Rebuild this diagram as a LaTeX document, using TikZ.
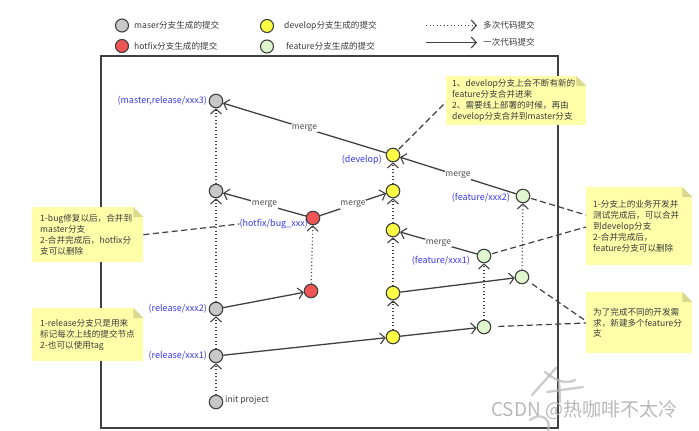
\documentclass[tikz,border=0pt]{standalone}
\usepackage{fontspec}
\setmainfont{Noto Sans CJK SC}
\usetikzlibrary{arrows.meta,calc}
\definecolor{cgray}{HTML}{C8C8C8}
\definecolor{cred}{HTML}{F05555}
\definecolor{cyel}{HTML}{FFFF44}
\definecolor{cgrn}{HTML}{DFF6CF}
\definecolor{cline}{HTML}{404040}
\definecolor{cblue}{HTML}{3838F0}
\definecolor{cnote}{HTML}{FFFFAA}
\definecolor{cfold}{HTML}{D9D98F}
\definecolor{ctext}{HTML}{3A3A3A}
\definecolor{cwm}{HTML}{B8B8B8}
\tikzset{
  commit/.style={circle, draw=cline, line width=1.1pt, minimum size=13.5pt, inner sep=0pt},
  gc/.style={commit, fill=cgray},
  rc/.style={commit, fill=cred},
  yc/.style={commit, fill=cyel},
  fc/.style={commit, fill=cgrn},
  tipx/.tip={Straight Barb[length=5pt,width=11pt,line width=1.1pt]},
  multi/.style={draw=cline, line width=1.2pt, dash pattern=on 1.2pt off 2.3pt, -tipx},
  single/.style={draw=cline, line width=1.3pt, -tipx},
  notelink/.style={draw=cline, line width=1.2pt, dash pattern=on 6pt off 3.5pt},
  mlab/.style={fill=white, text=ctext!90, font=\fontsize{8.5}{10}\selectfont, inner sep=0.8pt},
  blab/.style={text=cblue, font=\fontsize{9}{10}\selectfont, inner sep=0pt},
  legtext/.style={anchor=west, text=ctext, font=\fontsize{8.6}{10}\selectfont, inner sep=0pt},
  notebox/.style={fill=cnote, text=ctext, align=left, anchor=north west,
    font=\fontsize{8.6}{10.9}\selectfont, inner ysep=0pt},
}
\newcommand{\notefold}[1]{%
  \fill[white] ($(#1.north east)+(-10,0)$) -- (#1.north east) -- ($(#1.north east)+(0,10)$) -- cycle;
  \fill[cfold] ($(#1.north east)+(-10,0)$) -- ($(#1.north east)+(0,10)$) -- ($(#1.north east)+(-10,10)$) -- cycle;}
\begin{document}
\begin{tikzpicture}[x=1pt,y=-1pt]
\useasboundingbox (0,0) rectangle (699,431);
% frame
\draw[cline, line width=1.3pt] (101,56) rectangle (558,428);

% legend
\node[gc, minimum size=13pt] (lg1) at (122,25.5) {};
\node[legtext] (lt1) at (134,25.5) {maser分支生成的提交};
\node[rc, minimum size=13pt] (lg2) at (122,46) {};
\node[legtext] (lt2) at (134,46) {hotfix分支生成的提交};
\node[yc, minimum size=13pt] (lg3) at (267,26) {};
\node[legtext] (lt3) at (284,26) {develop分支生成的提交};
\node[fc, minimum size=13pt] (lg4) at (267,46.5) {};
\node[legtext] (lt4) at (286,46.5) {feature分支生成的提交};
\coordinate (la1) at (426,25.5);
\coordinate (lb1) at (477,25.5);
\coordinate (la2) at (426,42.5);
\coordinate (lb2) at (477,42.5);
\draw[multi] (la1) -- (lb1);
\draw[single] (la2) -- (lb2);
\node[legtext] (lt5) at (483,25.5) {多次代码提交};
\node[legtext] (lt6) at (483,42.5) {一次代码提交};

% watermark strokes
\begin{scope}[cwm, line width=2.4pt, line cap=round, opacity=0.7]
\draw (532,395) -- (556,368);
\draw (545,372) .. controls (555,380) and (565,385) .. (575,380);
\draw (559,380) -- (560,402);
\draw (547,392) -- (583,387);
\draw (530,420) .. controls (540,412) and (552,418) .. (548,431);
\end{scope}
\node[text=cwm, font=\fontsize{19}{20}\selectfont, anchor=west, inner sep=0pt] (wm) at (491,410) {CSDN @热咖啡不太冷};

% commits
\node[gc] (m3) at (216,101) {};
\node[gc] (m2) at (216,191) {};
\node[gc] (r2) at (216,309) {};
\node[gc] (r1) at (216,356) {};
\node[gc] (ini) at (216,402) {};
\node[rc] (h1) at (313,218) {};
\node[rc] (h0) at (311,291) {};
\node[yc] (d5) at (393,155) {};
\node[yc] (d4) at (393,191) {};
\node[yc] (d3) at (393,230) {};
\node[yc] (d2) at (393,293) {};
\node[yc] (d1) at (393,337) {};
\node[fc] (f2) at (523,196) {};
\node[fc] (f1) at (484,256) {};
\node[fc] (f2b) at (522,277) {};
\node[fc] (f1b) at (484,327) {};

% labels
\node[blab, anchor=east] (lm3) at (207,101) {(master,release/xxx3)};
\node[blab, anchor=east] (lr2) at (207,309) {(release/xxx2)};
\node[blab, anchor=east] (lr1) at (207,356) {(release/xxx1)};
\node[text=ctext, font=\fontsize{8.6}{10}\selectfont, anchor=west, inner sep=0pt] (lini) at (225,400.5) {init project};
\node[blab, anchor=east] (lh) at (308,224) {(hotfix/bug\_xxx)};
\node[blab, anchor=east] (ld) at (382,160) {(develop)};
\node[blab, anchor=east] (lf2) at (510,198) {(feature/xxx2)};
\node[blab, anchor=east] (lf1) at (470,261) {(feature/xxx1)};

% multiple commits (dotted)
\draw[multi] (ini) -- (r1);
\draw[multi] (r1) -- (r2);
\draw[multi] (r2) -- (m2);
\draw[multi] (m2) -- (m3);
\draw[multi] (h0) -- (h1);
\draw[multi] (d1) -- (d2);
\draw[multi] (d2) -- (d3);
\draw[multi] (d3) -- (d4);
\draw[multi] (d4) -- (d5);
\draw[multi] (f1b) -- (f1);
\draw[multi] (f2b) -- (f2);

% single commits
\draw[single] (r1) -- (d1);
\draw[single] (d1) -- (f1b);
\draw[single] (r2) -- (h0);
\draw[single] (d2) -- (f2b);

% merges
\draw[single] (d5) -- node[mlab] {merge} (m3);
\draw[single] (h1) -- node[mlab] {merge} (m2);
\draw[single] (h1) -- node[mlab] {merge} (d4);
\draw[single] (f1) -- node[mlab] {merge} (d3);
\draw[single] (f2) -- node[mlab] {merge} (d5);

% notes
\node[notebox, inner xsep=6pt, text width=128pt, minimum height=49pt] (nt) at (446,76)
  {1、develop分支上会不断有新的\\feature分支合并进来\\2、需要线上部署的时候，再由\\develop分支合并到master分支};
\notefold{nt}
\node[notebox, inner xsep=8pt, text width=95pt, minimum height=55pt] (nl1) at (32,207)
  {1-bug修复以后，合并到\\master分支\\2-合并完成后，hotfix分\\支可以删除};
\notefold{nl1}
\node[notebox, inner xsep=8pt, text width=95pt, minimum height=53pt] (nl2) at (32,308)
  {1-release分支只是用来\\标记每次上线的提交节点\\2-也可以使用tag};
\notefold{nl2}
\node[notebox, inner xsep=7pt, text width=92pt, minimum height=78pt] (nr1) at (586,187)
  {1-分支上的业务开发并\\测试完成后，可以合并\\到develop分支\\2-合并完成后，\\feature分支可以删除};
\notefold{nr1}
\node[notebox, inner xsep=7pt, text width=92pt, minimum height=61pt] (nr2) at (586,292)
  {为了完成不同的开发需\\求，新建多个feature分\\支};
\notefold{nr2}

% note links
\coordinate (ntl) at (446,102);
\coordinate (nr1a) at (586,215);
\coordinate (nr1b) at (586,227);
\coordinate (nr2a) at (586,321);
\coordinate (nr2b) at (586,323);
\draw[notelink, shorten <=1pt] (d5) -- (ntl);
\draw[notelink] (nl1.east) -- (lh.west);
\draw[notelink, shorten <=1pt] (f2) -- (nr1a);
\draw[notelink, shorten <=1pt] (f1) -- (nr1b);
\draw[notelink, shorten <=5pt] (f2b) -- (nr2a);
\draw[notelink, shorten <=7pt] (f1b) -- (nr2b);
\end{tikzpicture}
\end{document}
